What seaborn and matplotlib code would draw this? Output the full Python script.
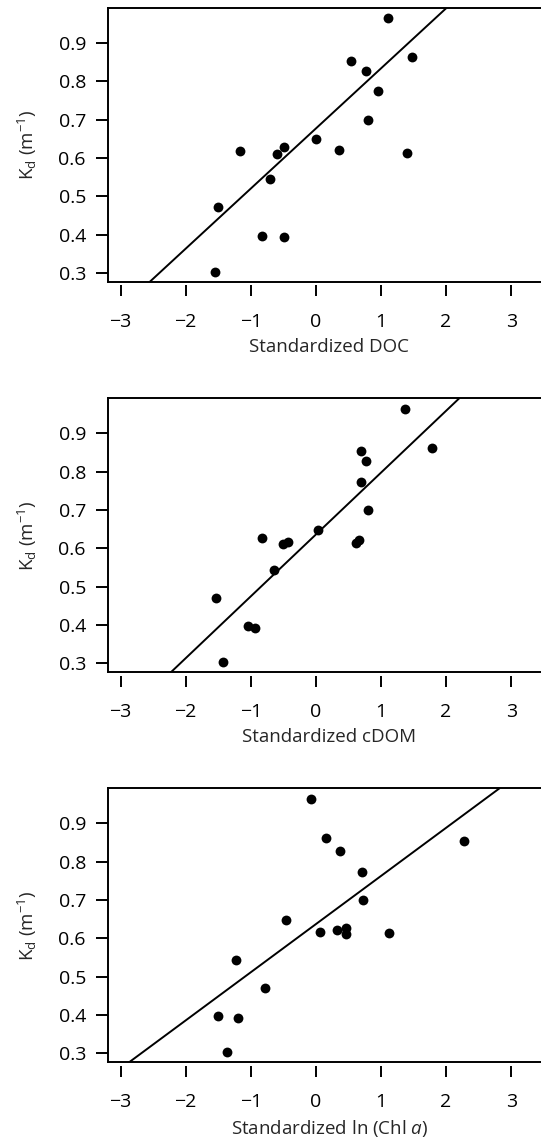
import matplotlib
matplotlib.use("Agg")
import matplotlib.pyplot as plt
import seaborn as sns
import pandas as pd

# ----------------------------------------------
# Data (17 lakes, shared Kd)
# ----------------------------------------------
KD = [0.965, 0.863, 0.853, 0.828, 0.774, 0.700, 0.649, 0.628, 0.621,
      0.617, 0.614, 0.610, 0.544, 0.471, 0.396, 0.393, 0.302]

DOC = [1.11, 1.48, 0.54, 0.77, 0.96, 0.80, 0.00, -0.49, 0.35,
       -1.17, 1.40, -0.60, -0.70, -1.50, -0.83, -0.49, -1.55]
CDOM = [1.37, 1.79, 0.70, 0.77, 0.69, 0.80, 0.03, -0.82, 0.67,
        -0.43, 0.61, -0.51, -0.65, -1.54, -1.05, -0.93, -1.43]
CHL = [-0.08, 0.15, 2.27, 0.37, 0.71, 0.72, -0.46, 0.47, 0.33,
       0.06, 1.12, 0.47, -1.22, -0.78, -1.50, -1.20, -1.36]

# fitted lines (intercept, slope)
INTERCEPTS = [0.677, 0.636, 0.637]
SLOPES = [0.157, 0.1616, 0.1258]

XLABELS = ["Standardized DOC", "Standardized cDOM",
           "Standardized ln (Chl $\\mathit{a}$)"]
YLABEL = "K$_{\\mathrm{d}}$ (m$^{-1}$)"
XTICKS = [-3, -2, -1, 0, 1, 2, 3]
YTICKS = [0.3, 0.4, 0.5, 0.6, 0.7, 0.8, 0.9]

sns.set_style("ticks")
plt.rcParams["font.family"] = ["Open Sans", "DejaVu Sans"]
plt.rcParams["mathtext.fontset"] = "custom"
plt.rcParams["mathtext.rm"] = "Open Sans"
plt.rcParams["mathtext.it"] = "Open Sans:italic"
plt.rcParams["axes.unicode_minus"] = True

df = pd.DataFrame({"kd": KD, "doc": DOC, "cdom": CDOM, "chl": CHL})
cols = ["doc", "cdom", "chl"]

fig = plt.figure(figsize=(5.41, 11.37), dpi=100)
bottoms = [0.752, 0.4087, 0.0657]
lw = 1.4
fs = 14

for i, col in enumerate(cols):
    ax = fig.add_axes([0.2, bottoms[i], 0.817, 0.241])
    sns.scatterplot(data=df, x=col, y="kd", ax=ax, color="black",
                    s=50, edgecolor="black", linewidth=0, zorder=3)
    ax.axline((0, INTERCEPTS[i]), slope=SLOPES[i], color="black", lw=1.4)

    ax.set_xlim(-3.19, 3.6)
    ax.set_ylim(0.276, 0.992)
    ax.set_xticks(XTICKS)
    ax.set_yticks(YTICKS)
    ax.set_yticklabels([f"{v:.1f}" for v in YTICKS])

    for side in ["left", "top", "right"]:
        ax.spines[side].set_visible(True)
        ax.spines[side].set_linewidth(lw)
        ax.spines[side].set_color("black")
    # detached x ticks like base R, keep box line on top of them
    ax.spines["bottom"].set_position(("outward", 2.5))
    ax.spines["bottom"].set_visible(False)
    ax.axhline(0.276, color="black", lw=lw, clip_on=False, zorder=4)

    ax.tick_params(axis="x", length=7.7, width=lw, pad=12,
                   labelsize=fs, colors="black")
    ax.tick_params(axis="y", length=8.5, width=lw, pad=7.5,
                   labelsize=fs, colors="black")
    ax.set_xlabel(XLABELS[i], fontsize=13.5, labelpad=5)
    ax.set_ylabel(YLABEL, fontsize=13.5, labelpad=14)

fig.savefig("out.png", dpi=100)
